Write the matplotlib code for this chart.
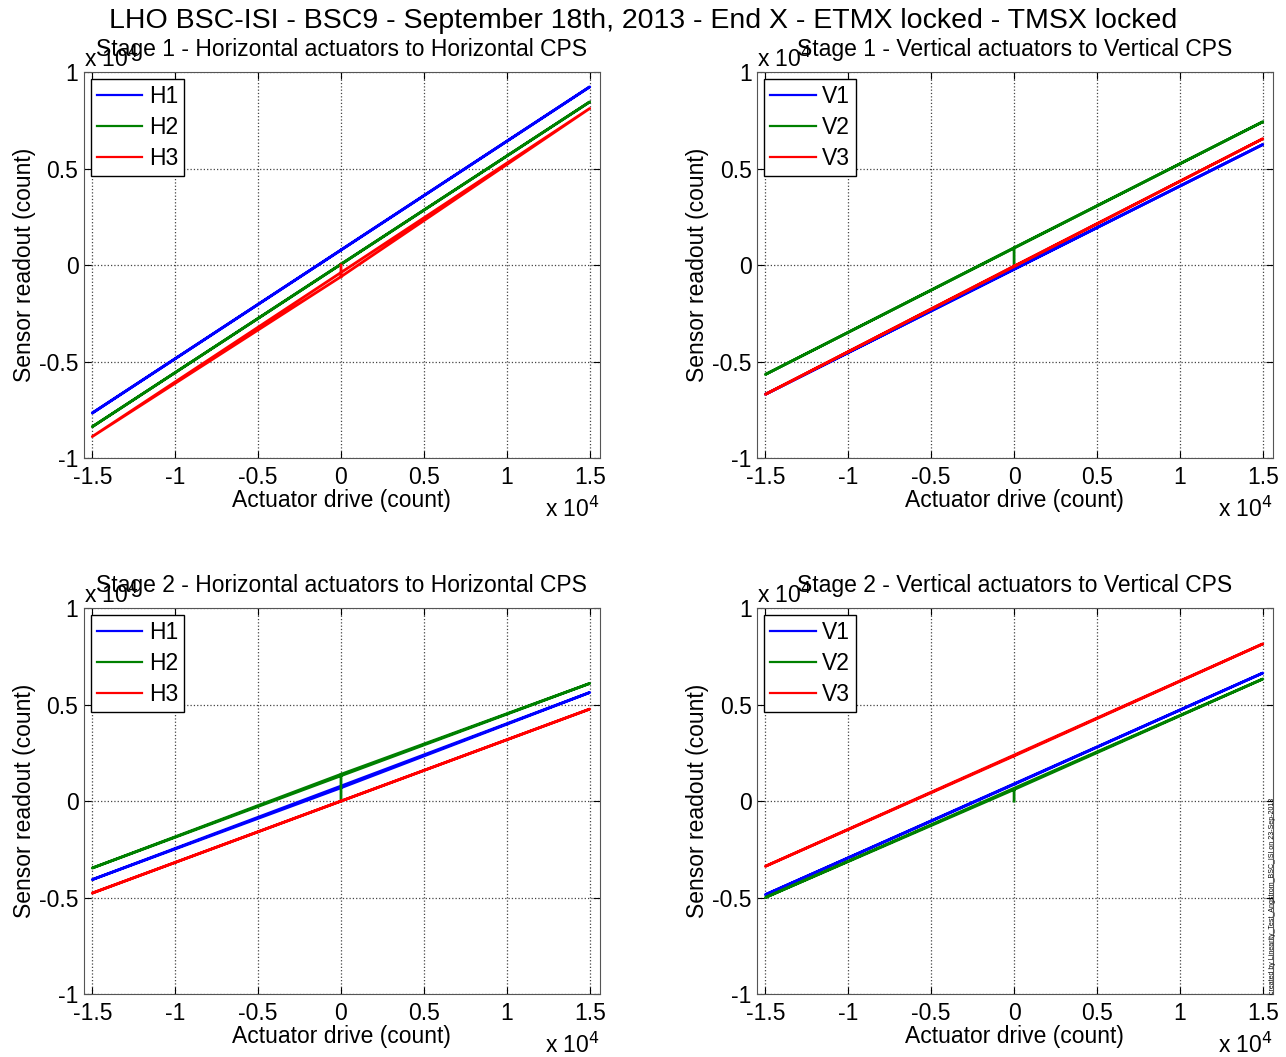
import matplotlib
matplotlib.use("Agg")
import matplotlib.pyplot as plt
from matplotlib.ticker import FuncFormatter

plt.rcParams['font.family'] = ['Liberation Sans', 'DejaVu Sans']

# sweep path: start at 0, offset jump, ramp up, ramp down, back to 0
drive = [0, 0, 15000, -15000, 0]

# Stage 1 horizontal (counts)
s1_h1 = [780, 780, 9240, -7670, 780]
s1_h2 = [50, 50, 8460, -8380, 50]
s1_h3 = [0, -600, 8120, -8890, -600]

# Stage 1 vertical
s1_v1 = [-200, -200, 6250, -6700, -200]
s1_v2 = [0, 900, 7430, -5670, 900]
s1_v3 = [-50, -50, 6550, -6700, -50]

# Stage 2 horizontal
s2_h1 = [690, 690, 5630, -4070, 690]
s2_h2 = [0, 1390, 6100, -3470, 1390]
s2_h3 = [0, 0, 4770, -4770, 0]

# Stage 2 vertical
s2_v1 = [870, 870, 6640, -4850, 870]
s2_v2 = [0, 600, 6330, -5000, 600]
s2_v3 = [2340, 2340, 8150, -3380, 2340]

panels = [
    ("Stage 1 - Horizontal actuators to Horizontal CPS", ["H1", "H2", "H3"], [s1_h1, s1_h2, s1_h3]),
    ("Stage 1 - Vertical actuators to Vertical CPS", ["V1", "V2", "V3"], [s1_v1, s1_v2, s1_v3]),
    ("Stage 2 - Horizontal actuators to Horizontal CPS", ["H1", "H2", "H3"], [s2_h1, s2_h2, s2_h3]),
    ("Stage 2 - Vertical actuators to Vertical CPS", ["V1", "V2", "V3"], [s2_v1, s2_v2, s2_v3]),
]
colors = ["#0000ff", "#008000", "#ff0000"]

xticks = [-15000, -10000, -5000, 0, 5000, 10000, 15000]
yticks = [-10000, -5000, 0, 5000, 10000]

fig = plt.figure(figsize=(12.86, 10.57), dpi=100)

# axes rectangles in figure fraction
lefts = [0.0653, 0.5887]
bottoms = [0.5667, 0.0596]
w, h = 0.401, 0.365

fmt = FuncFormatter(lambda v, p: "%g" % (v / 1e4))
fs = 16.5

for i, (title, names, series) in enumerate(panels):
    ax = fig.add_axes([lefts[i % 2], bottoms[i // 2], w, h])
    for name, ys, c in zip(names, series, colors):
        ax.plot(drive, ys, color=c, lw=2.0, label=name)
    ax.set_xlim(-15500, 15600)
    ax.set_ylim(-10000, 10000)
    ax.set_xticks(xticks)
    ax.set_yticks(yticks)
    ax.xaxis.set_major_formatter(fmt)
    ax.yaxis.set_major_formatter(fmt)
    ax.tick_params(direction="in", top=True, right=True, labelsize=fs, length=5)
    ax.tick_params(axis="x", pad=6)
    ax.tick_params(axis="y", pad=4)
    ax.grid(True, linestyle=":", color="#444444", lw=0.9)
    for sp in ax.spines.values():
        sp.set_color("#555555")
    ax.set_title(title, fontsize=fs, pad=12)
    ax.set_xlabel("Actuator drive (count)", fontsize=fs, labelpad=0)
    ax.set_ylabel("Sensor readout (count)", fontsize=fs, labelpad=2)
    # exponent sits under the panel title, as in the original export
    ax.text(0.0, 1.0, r"x 10$^4$", transform=ax.transAxes, fontsize=fs, va="bottom", ha="left")
    ax.text(1.0, -0.153, r"x 10$^4$", transform=ax.transAxes, fontsize=fs, va="baseline", ha="right")
    leg = ax.legend(loc="upper left", fontsize=fs, fancybox=False, framealpha=1,
                    edgecolor="black", handlelength=2.0, handletextpad=0.3,
                    borderaxespad=0.3, labelspacing=0.35, borderpad=0.25)
    leg.get_frame().set_linewidth(1.0)
    for ln in leg.get_lines():
        ln.set_linewidth(1.6)

fig.suptitle("LHO BSC-ISI - BSC9 - September 18th, 2013 - End X - ETMX locked - TMSX locked",
             fontsize=20.5, y=0.992, va="top")

fig.text(0.9895, 0.06, "created by Linearity_Test_Angstrom_BSC_ISI on 23-Sep-2013",
         rotation=90, fontsize=5, ha="center", va="bottom")

fig.savefig("out.png", dpi=100)
